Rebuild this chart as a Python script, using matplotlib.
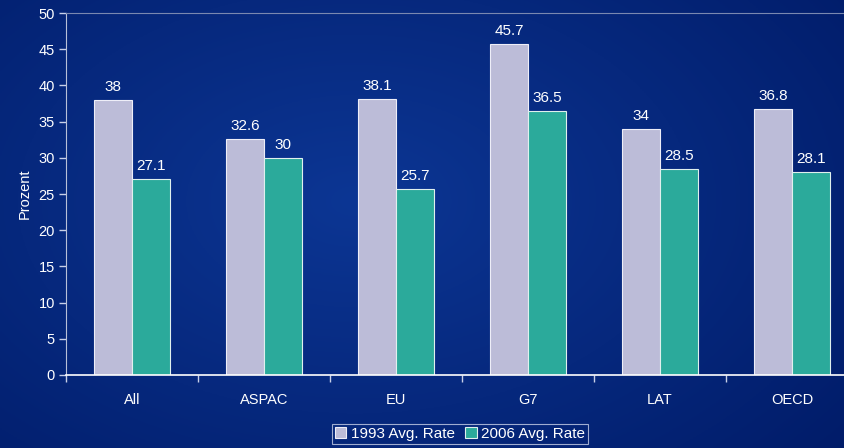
import numpy as np
import matplotlib.pyplot as plt

plt.rcParams['font.family'] = ['Liberation Sans', 'DejaVu Sans']

categories = ["All", "ASPAC", "EU", "G7", "LAT", "OECD"]
rate_1993 = [38, 32.6, 38.1, 45.7, 34, 36.8]
rate_2006 = [27.1, 30, 25.7, 36.5, 28.5, 28.1]
labels_1993 = ["38", "32.6", "38.1", "45.7", "34", "36.8"]
labels_2006 = ["27.1", "30", "25.7", "36.5", "28.5", "28.1"]

C1993 = "#BCBCD8"
C2006 = "#2BAA9B"

fig = plt.figure(figsize=(8.45, 4.48), dpi=100)

# background gradient (a bit lighter in the middle, darker to the edges)
bg = fig.add_axes([0, 0, 1, 1])
yy, xx = np.mgrid[0:1:200j, 0:1:400j]
d = np.sqrt(((xx - 0.42) / 0.8) ** 2 + ((yy - 0.45) / 0.95) ** 2)
d = np.clip(d, 0, 1)
c_in = np.array([0x0c, 0x36, 0x94]) / 255
c_out = np.array([0x00, 0x1a, 0x66]) / 255
img = c_in[None, None, :] * (1 - d[..., None]) + c_out[None, None, :] * d[..., None]
bg.imshow(img, aspect="auto", extent=[0, 1, 0, 1], origin="upper")
bg.axis("off")

ax = fig.add_axes([66 / 845, 1 - 375 / 448, 792 / 845, 362 / 448])
ax.patch.set_alpha(0)

x = np.arange(len(categories))
w = 0.288
b1 = ax.bar(x - w / 2, rate_1993, w, color=C1993, edgecolor="#EEEEF8", linewidth=0.8,
            label="1993 Avg. Rate")
b2 = ax.bar(x + w / 2, rate_2006, w, color=C2006, edgecolor="#E0F0EE", linewidth=0.8,
            label="2006 Avg. Rate")

for i in range(len(categories)):
    ax.text(x[i] - w / 2, rate_1993[i] + 0.8, labels_1993[i], ha="center", va="bottom",
            color="white", fontsize=11)
    ax.text(x[i] + w / 2, rate_2006[i] + 0.8, labels_2006[i], ha="center", va="bottom",
            color="white", fontsize=11)

ax.set_xlim(-0.5, len(categories) - 0.5)
ax.set_ylim(0, 50)
ax.set_yticks(range(0, 51, 5))
ax.set_xticks(x)
ax.set_xticklabels(categories)
ax.set_xticks(np.arange(-0.5, len(categories)), minor=True)
ax.tick_params(axis="x", which="major", length=0, pad=13, colors="white", labelsize=10.5)
ax.tick_params(axis="x", which="minor", length=5, width=1, color="#C8D0E8", direction="out")
ax.tick_params(axis="y", length=5, width=1, color="#C8D0E8", colors="white", labelsize=10.5, pad=3)
for lab in ax.get_yticklabels():
    lab.set_color("white")

ax.spines["right"].set_visible(False)
ax.spines["top"].set_color("#7A88B0")
ax.spines["left"].set_color("#B8C0D8")
ax.spines["bottom"].set_color("white")
ax.spines["bottom"].set_linewidth(1.2)

ax.set_ylabel("Prozent", color="white", fontsize=10.5, labelpad=5)

leg = fig.legend(handles=[b1, b2], loc="center", bbox_to_anchor=(460 / 845, 1 - 434 / 448),
                 ncol=2, frameon=True, fontsize=11, handlelength=0.75, handleheight=0.75,
                 handletextpad=0.3, columnspacing=0.7, borderpad=0.2, fancybox=False,
                 labelcolor="white")
leg.get_frame().set_facecolor("none")
leg.get_frame().set_edgecolor("#C8D0E8")
leg.get_frame().set_linewidth(0.8)

fig.savefig("out.png", dpi=100)
